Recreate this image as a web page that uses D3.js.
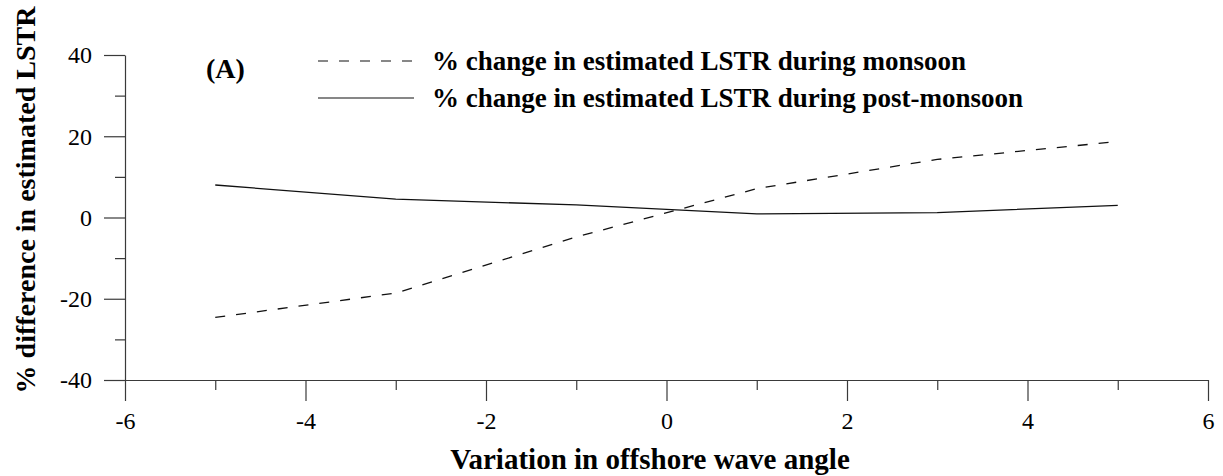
<!DOCTYPE html>
<html>
<head>
<meta charset="utf-8">
<script src="https://cdn.jsdelivr.net/npm/d3@7"></script>
<style>
  html, body { margin: 0; padding: 0; background: #fff; }
  svg { display: block; }
  text { font-family: "Liberation Serif", "Times New Roman", serif; fill: #000; }
</style>
</head>
<body>
<svg id="chart" width="1223" height="476"></svg>
<script>
// Wave-angle variation (degrees) and % change in estimated LSTR
const angles = [-5, -3, -1, 1, 3, 5];
const monsoon = [-24.6, -18.6, -4.8, 7.1, 14.3, 18.7];
const postMonsoon = [8.0, 4.5, 3.1, 0.9, 1.2, 3.0];

const xTicks = [-6, -4, -2, 0, 2, 4, 6];
const xMinorTicks = [-5, -3, -1, 1, 3, 5];
const yTicks = [-40, -20, 0, 20, 40];
const yMinorTicks = [-30, -10, 10, 30];

const seriesLabels = [
  "% change in estimated LSTR during monsoon",
  "% change in estimated LSTR during post-monsoon"
];
const panelLabel = "(A)";
const xTitle = "Variation in offshore wave angle";
const yTitle = "% difference in estimated LSTR";

const svg = d3.select("#chart");
const margin = { left: 125, right: 15, top: 55, bottom: 96 };
const W = 1223, H = 476;

const x = d3.scaleLinear().domain([-6, 6]).range([margin.left, W - margin.right]);
const y = d3.scaleLinear().domain([-40, 40]).range([H - margin.bottom, margin.top]);

const axisColor = "#3a3a3a";
const fmt = d => String(d); // plain hyphen for negatives

// X axis: major + minor ticks
const gx = svg.append("g").attr("transform", `translate(0,${y(-40)})`);
gx.call(d3.axisBottom(x).tickValues(xTicks).tickSize(21).tickSizeOuter(0).tickFormat(fmt));
gx.append("g").call(d3.axisBottom(x).tickValues(xMinorTicks).tickSize(10).tickFormat(""))
  .select(".domain").remove();

// Y axis: major + minor ticks
const gy = svg.append("g").attr("transform", `translate(${x(-6)},0)`);
gy.call(d3.axisLeft(y).tickValues(yTicks).tickSize(21).tickSizeOuter(0).tickFormat(fmt));
gy.append("g").call(d3.axisLeft(y).tickValues(yMinorTicks).tickSize(10).tickFormat(""))
  .select(".domain").remove();

svg.selectAll(".domain, .tick line").attr("stroke", axisColor).attr("stroke-width", 1.2);
gx.selectAll(".tick text").attr("font-size", 24).attr("font-family", "Liberation Serif")
  .attr("y", 49).attr("dy", 0);
gy.selectAll(".tick text").attr("font-size", 24).attr("font-family", "Liberation Serif")
  .attr("x", -33).attr("dy", "0.33em");

// Axis titles
svg.append("text")
  .attr("x", 650)
  .attr("y", 469)
  .attr("text-anchor", "middle")
  .attr("font-size", 29).attr("font-weight", "bold")
  .text(xTitle);

svg.append("text")
  .attr("transform", "translate(35,200) rotate(-90)")
  .attr("text-anchor", "middle")
  .attr("font-size", 28).attr("font-weight", "bold")
  .text(yTitle);

// Data lines
const line = d3.line().x((d, i) => x(angles[i])).y(d => y(d));

svg.append("path").datum(monsoon)
  .attr("d", line).attr("fill", "none")
  .attr("stroke", "#111").attr("stroke-width", 1.3)
  .attr("stroke-dasharray", "10,11");

svg.append("path").datum(postMonsoon)
  .attr("d", line).attr("fill", "none")
  .attr("stroke", "#111").attr("stroke-width", 1.3);

// Panel label
svg.append("text").attr("x", 206).attr("y", 78)
  .attr("font-size", 28).attr("font-weight", "bold").text(panelLabel);

// Legend
const legend = svg.append("g");
const legendRows = [{ dash: "10,11", y: 61, base: 70 }, { dash: null, y: 98, base: 107 }];
legendRows.forEach((r, i) => {
  legend.append("line").attr("x1", 318).attr("x2", 414)
    .attr("y1", r.y).attr("y2", r.y)
    .attr("stroke", "#111").attr("stroke-width", 1.2)
    .attr("stroke-dasharray", r.dash);
  legend.append("text").attr("x", 432).attr("y", r.base)
    .attr("font-size", 27).attr("font-weight", "bold")
    .text(seriesLabels[i]);
});
</script>
</body>
</html>
